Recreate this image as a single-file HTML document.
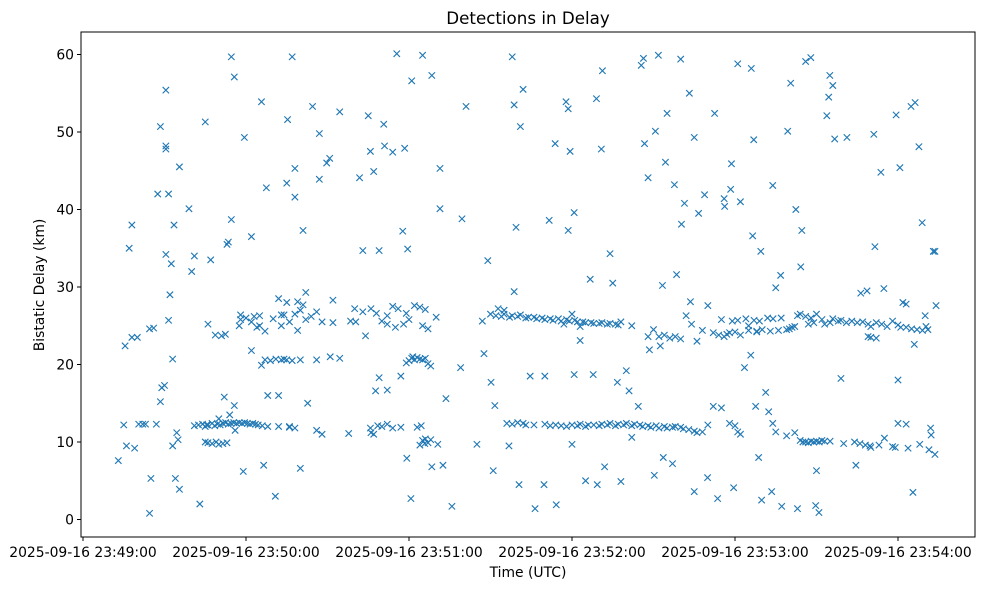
<!DOCTYPE html>
<html><head><meta charset="utf-8"><style>
body{margin:0;background:#fff;width:985px;height:590px;overflow:hidden}
svg text{font-family:"DejaVu Sans","Liberation Sans",sans-serif;fill:#000}
</style></head><body>
<svg id="chart" width="985" height="590" xmlns="http://www.w3.org/2000/svg">
<text x="528" y="24" font-size="16.7" text-anchor="middle">Detections in Delay</text>
<text x="528" y="577" font-size="13.9" text-anchor="middle">Time (UTC)</text>
<text x="44" y="285" font-size="13.9" text-anchor="middle" transform="rotate(-90 44 285)">Bistatic Delay (km)</text>
<g id="marks"></g>
<g id="axes"></g>
</svg>
<script>
const xTickSeconds=[0,60,120,180,240,300];
const xTickLabels=["2025-09-16 23:49:00","2025-09-16 23:50:00","2025-09-16 23:51:00","2025-09-16 23:52:00","2025-09-16 23:53:00","2025-09-16 23:54:00"];
const yTicks=[0,10,20,30,40,50,60];
// seconds after 23:49:00
const times=[];const delays=[];
const pts=[[13,7.6],[15,12.2],[15.5,22.4],[16,9.5],[17,35],[18,38],[18,23.5],[19,9.2],[20,23.5],[20.5,12.3],[22,12.3],[23,12.3],[24.5,24.6],[24.5,0.8],[25,5.3],[26,24.7],[27,12.3],[27.5,42],[28.5,50.7],[28.5,15.2],[29,17],[30,17.3],[30.5,55.4],[30.5,48.2],[30.5,47.8],[30.5,34.2],[31.5,25.7],[31.5,42],[32,29],[32.5,33],[33,9.5],[33,20.7],[33.5,38],[34,5.3],[34.5,11.2],[35,10.3],[35.5,3.9],[35.5,45.5],[39,40.1],[40,32],[41,34],[43,2],[45,51.3],[45.5,12.2],[46,25.2],[47,33.5],
[48.7,23.8],[51,23.7],[52.4,23.9],[53,35.5],[53.5,35.8],[54.6,59.7],[54.6,38.7],[55.7,57.1],[55.7,14.7],[57.5,25],[58,26.4],[59,6.2],[59.4,49.3],[62,36.5],[62,21.8],[65,25],[65.7,53.9],[65.7,19.9],[66.5,7],[67,24.3],[67.5,42.8],[68,16],[70.8,3],[72,28.5],[72,16],[73,25],[74,20.7],[75,43.4],[75.3,51.6],[76,12],[77,59.7],[78,45.3],[78,41.6],[79,24.4],[80,6.6],[81,37.3],[82,29.3],[82.7,15],[84.5,53.3],[86,11.5],[87,43.9],[87,49.8],[88,11],[89.7,46],[90.8,46.6],[92,28.3],[92,25.4],[94.5,52.6],[94.5,20.8],[97.8,11.1],[98.5,25.6],[100.4,25.5],[101.8,44.1],[103,34.7],[104,23.7],[105,52.1],[105.8,47.5],[105.8,11.8],[107,44.9],[107.7,16.6],[108.5,12.1],[109,34.7],[109,18.3],[110.7,51],[111,48.2],[112,26.3],[112,16.7],[114,47.4],[115.5,60.1],[117,11.9],[117.7,37.2],[118.4,47.9],[119.5,34.9],[119.2,7.9],[120.7,2.7],[121,56.6],[121.4,21],[125,59.9],[125.8,9.8],[128.4,57.3],[128.4,6.8],[130.6,9.7],[131.4,40.1],[131.4,45.3],[132.5,7],[133.6,15.6],[135.8,1.7],[139,19.6],[139.5,38.8],[141,53.3],[145,9.7],[147.6,21.4],[149,33.4],[150.2,17.7],[151.6,14.7],[151,6.3],[152.8,27.2],[156.8,9.5],[158,59.7],[158.7,53.5],[159.4,37.7],[158.7,29.4],[160.5,4.5],[161,50.7],[162,55.5],[164.6,18.5],[166.4,1.4],[170,18.5],[169.7,4.5],[171.6,38.6],[173.8,48.5],[174.2,1.9],[177.8,53.9],[178.6,53],[179.3,47.5],[178.6,37.3],[180.8,39.6],[180.8,18.7],[180,9.7],[183,23.1],[185,5],[186.7,31],[187.8,18.7],[189,54.3],[189.3,4.5],[190.8,47.8],[191.2,57.9],[192,6.8],[194,34.3],[195,30.5],[196.7,17.7],[198,4.9],[200,19.2],[201,16.6],[202,10.6],[202,25],[204.4,14.6],[205.5,58.6],[206.3,59.5],[206.7,48.5],[208,44.1],[208.5,21.9],[210.3,5.7],[210.7,50.1],[211.8,59.9],[212.5,22.4],[213.3,30.2],[213.6,8],[214.4,46.1],[215,52.4],[217,7.2],[217.7,43.2],[218.5,31.6],[220,59.4],[220.3,38.1],[221.4,40.8],[223.2,55],[223.6,28.1],[225,3.6],[225,49.3],[226.6,39.5],[228.8,41.9],[229.9,5.4],[232.5,52.4],[233.6,2.7],[236,41.4],[236.2,40.4],[238.4,42.6],[238.7,45.9],[239.5,4.1],[241,58.8],[242,41],[243.5,19.6],[245.8,21.2],[246,58.2],[246.5,36.6],[246.9,49],[247.6,14.6],[248.7,8],[249.5,34.6],[249.8,2.5],[251.3,16.4],[252.4,13.9],[253.5,3.6],[253.9,43.1],[253.9,12.4],[255,29.9],[256.8,31.5],[257.2,1.7],[259.4,50.1],[260.5,56.3],[262.4,40],[263,1.4],[264.2,32.6],[264.6,37.3],[266,59.1],[267.9,59.6],[269.7,1.8],[270.9,0.9],[270,6.3],[273.8,52.1],[274.5,54.5],[274.9,57.3],[276,56],[276.7,49.1],[279,18.2],[281.2,49.3],[284.5,7],[286.3,29.2],[288.6,29.5],[289.7,9.5],[291.1,49.7],[291.5,35.2],[293.7,44.8],[294.8,29.8],[299,9.3],[299.3,52.2],[300,18],[300.7,45.4],[301.8,28],[303.7,9.2],[304.8,53.3],[305.5,3.5],[306.3,53.8],[307.7,48.1],[308.9,38.3],[310.3,24.9],[311.4,9],[312.2,10.9],[313,34.6],[313.6,34.6],[314,27.6],[313.6,8.4],
[41,12.1],[42.5,12.2],[44,12.3],[45,12.0],[46,12.2],[47.5,12.4],[48.5,12.1],[49.5,12.3],[50.5,12.2],[51.5,12.4],[52.5,12.5],[53.5,12.3],[54.5,12.4],[55.5,12.5],[56.5,12.4],[57.5,12.5],[58.5,12.4],[59.5,12.5],[60.5,12.4],[61.5,12.3],[62.5,12.4],[63.5,12.3],[64.5,12.2],[66,12.1],[68,12.0],[72,12.0],[76,11.9],[78,11.8],
[45,10],[46,9.9],[47.5,9.8],[49,10],[50,9.7],[51.5,9.8],[53,9.9],[50,13],[52,15.8],[54,13.5],[56,11.5],
[67,20.6],[69,20.5],[71,20.7],[73,20.6],[75,20.6],[77,20.5],[80,20.6],[86,20.6],[91,21],
[58,25.8],[60,26],[62,25.5],[63,26.2],[64,24.8],[65,26.3],[70,25.9],[73,26.4],[74,26.4],[76,25.5],[78,26.5],[80,27],[82,25.8],[84,26.2],[86,26.8],[88,25.5],[75,28],[79,28.1],[81,27.7],
[100,27.2],[103,26.8],[106,27.2],[108,26.6],[110,25.6],[112,25.2],[114,27.5],[116,27.2],[118,25.2],[119,26.6],[120,25.8],[122,27.6],[124,27.4],[126,27.1],[127,24.6],[130,26.1],[115,24.8],[125,25],
[117,18.5],[119,20.2],[120,20.5],[121,20.8],[122,20.6],[123,20.9],[124,20.7],[125,20.6],[126,20.8],[127,20.1],[128,19.8],
[124,9.6],[125,10.2],[126,10.4],[127,9.9],[128,10.3],[123,11.9],[124.5,12.1],[106,11.2],[107,11],[110,12],[112,12.3],[114,11.8],
[150,26.5],[152,26.3],[154,26.2],[155,26.5],[157,26.1],[158,26.3],[160,26.2],[161,26.4],[163,26.0],[164,26.1],[166,26.1],[167,25.9],[169,26],[170,25.8],[172,25.9],[173,25.7],[175,25.9],[176,25.6],[178,25.8],[179,25.6],[181,25.7],[182,25.5],[184,25.5],[185,25.4],[187,25.4],[188,25.3],[190,25.3],[191,25.4],[193,25.2],[194,25.3],[196,25.2],[197,25.1],[198,25.5],[147,25.6],[155,27],[177,25.2],[180,26.5],[183,24.9],
[156,12.4],[158,12.3],[160,12.5],[162,12.4],[163,12.2],[166,12.2],[170,12.3],[172,12.1],[174,12.2],[176,12.1],[178,12],[180,12.2],[182,12.1],[183,12.3],[185,12],[186,12.2],[188,12.2],[190,12.1],[191,12.3],[193,12.2],[194,12.4],[196,12.1],[197,12.3],[199,12.2],[200,12.4],[202,12.1],[203,12.3],[205,12.2],[206,12],[208,12.1],[209,11.9],[211,12.1],[212,11.8],[214,12],[215,11.8],[217,11.9],[218,12],[220,11.9],[221,11.7],[223,11.6],[225,11.4],[226,11.2],[228,11.3],[230,12.2],[232,14.6],[235,14.4],[238,12.4],[240,12.1],[241,11.3],[242,11],
[208,23.6],[210,24.5],[212,23.6],[214,23.8],[216,23.4],[218,23.6],[220,23.3],[222,26.3],[224,25.2],[226,23],[228,24.4],[230,27.6],[232,24.1],[234,23.8],[236,23.6],
[235,25.8],[237,23.9],[238,24.1],[239,25.6],[240,24.2],[241,25.7],[242,23.8],[244,25.9],[245,24.4],[247,25.7],[248,24.2],[249,25.6],[250,24.5],[252,26],[253,24.3],[254,25.9],[256,24.4],[257,26],[259,24.5],[260,24.6],[261,24.8],[262,24.9],[263,26.3],[264,26.5],[266,26.2],[267,25.2],[268,26],[269,25.4],[270,26.5],[272,25.8],[273,25.2],[275,25.4],[276,25.9],[278,25.6],[279,25.7],[281,25.4],[283,25.6],[285,25.4],[287,25.5],[289,25.2],[290,24.9],[292,25.4],[294,25.2],[296,24.9],[298,25.6],[300,25.1],[303,24.8],[305,24.6],[307,24.5],[309,24.4],[311,24.5],[289,23.6],[290,23.5],[292,23.4],[301,24.8],[303,27.8],[306,22.6],[310,26.3],
[264,10.2],[265,10],[266,10],[267,9.9],[268,10.1],[269,10],[270,10.1],[271,10],[272,10.2],[273,10.1],[275,10.1],[280,9.8],[284,10],[286,9.8],[288,9.6],[290,9.3],[293,9.6],[295,10.5],[298,9.4],[300,12.4],[303,12.3],[308,9.7],[312,11.8],[255,11.3],[259,10.8],[262,11.2],[245,25],[248,24.3]];
pts.forEach(p=>{times.push(p[0]);delays.push(p[1]);});

const L=81,R=975,T=32,B=537;
function xs(s){return 83+s*163/60;}
function ys(v){return 519.5-v*7.75;}
const NS="http://www.w3.org/2000/svg";
function mk(tag,attrs,parent){const e=document.createElementNS(NS,tag);for(const k in attrs)e.setAttribute(k,attrs[k]);parent.appendChild(e);return e;}
const marks=document.getElementById('marks');
for(let i=0;i<times.length;i++){
  const x=xs(times[i]),y=ys(delays[i]),d=3.2;
  const p=mk('path',{d:`M${x-d},${y-d}L${x+d},${y+d}M${x-d},${y+d}L${x+d},${y-d}`,stroke:'#1f77b4','stroke-width':'1.1',fill:'none'},marks);
  
  
}
const axes=document.getElementById('axes');
const frame=mk('rect',{x:L,y:T,width:R-L,height:B-T,fill:'none',stroke:'#000','stroke-width':'1'},axes);


yTicks.forEach(v=>{
  const y=ys(v);
  const t=mk('line',{x1:L-4,x2:L,y1:y,y2:y,stroke:'#000'},axes);
  
  
  const tx=mk('text',{x:L-7,y:y+5,'font-size':'13.9','text-anchor':'end'},axes);tx.textContent=v;
  
  
});
xTickSeconds.forEach((s,i)=>{
  const x=xs(s);
  const t=mk('line',{x1:x,x2:x,y1:B,y2:B+4,stroke:'#000'},axes);
  
  
  const tx=mk('text',{x:x,y:B+20,'font-size':'13.9','text-anchor':'middle'},axes);tx.textContent=xTickLabels[i];
  
  
});
</script>
</body></html>
